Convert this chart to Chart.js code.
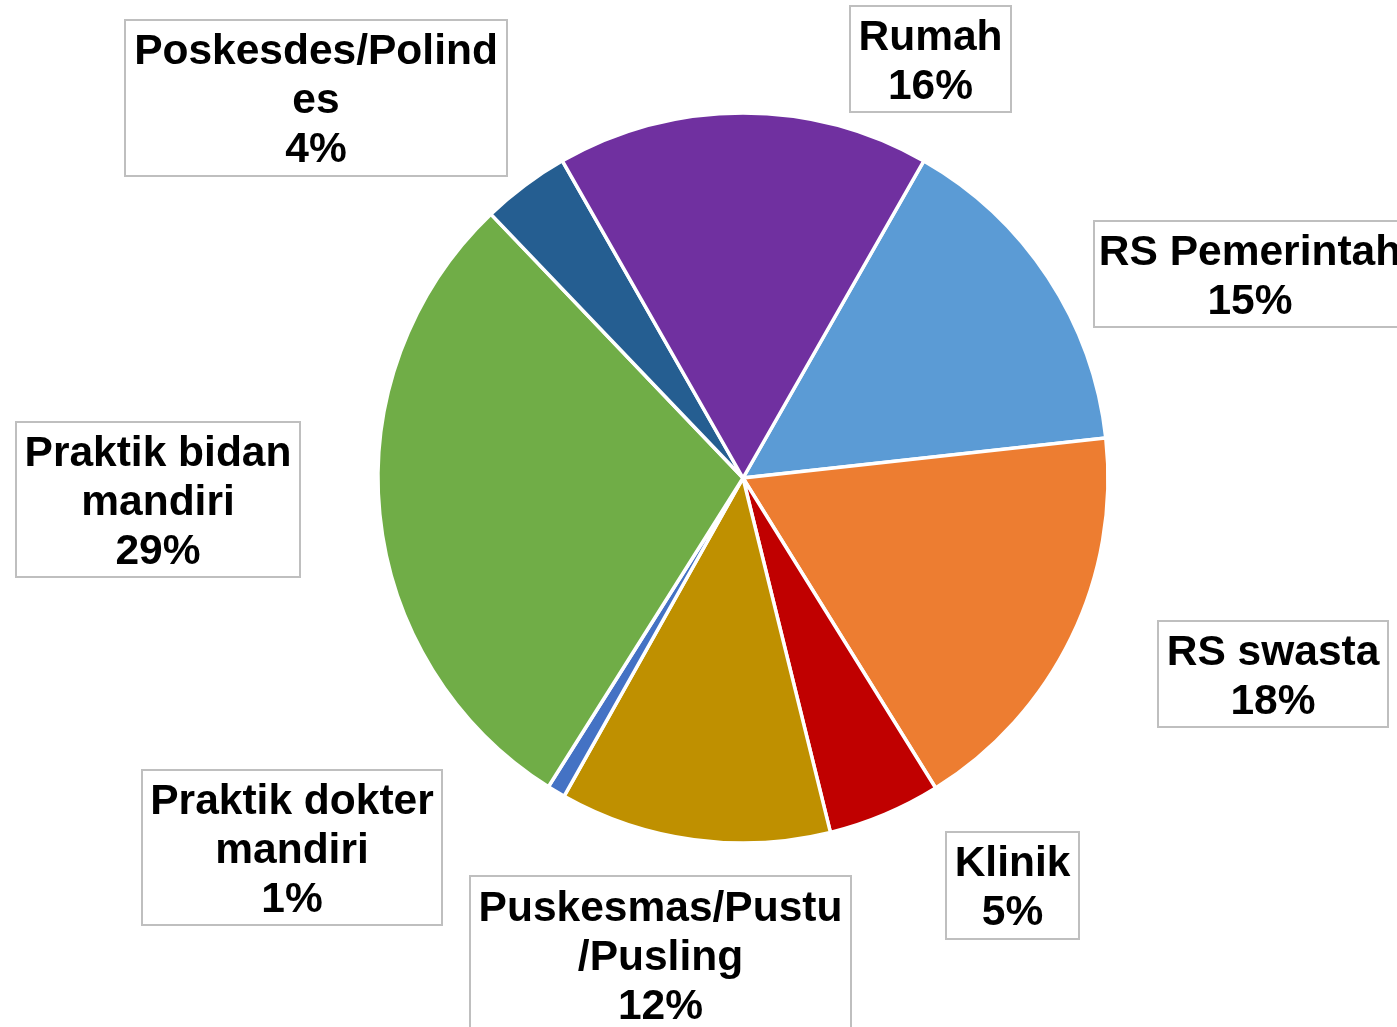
<!DOCTYPE html>
<html>
<head>
<meta charset="utf-8">
<script src="https://cdn.jsdelivr.net/npm/chart.js@4/dist/chart.umd.min.js"></script>
<style>
  html, body { margin: 0; padding: 0; background: #ffffff; }
  #wrap { width: 1397px; height: 1027px; position: relative; }
</style>
</head>
<body>
<div id="wrap"><canvas id="pieChart" width="1397" height="1027"></canvas></div>
<script>
// data (order as plotted, clockwise from the slice after Rumah)
const categories = [
  "RS Pemerintah", "RS swasta", "Klinik", "Puskesmas/Pustu/Pusling",
  "Praktik dokter mandiri", "Praktik bidan mandiri", "Poskesdes/Polindes", "Rumah"
];
const shares = [15.0, 17.9, 5.0, 12.0, 0.8, 28.91, 3.9, 16.49];
const sliceColors = [
  "#5B9BD5", "#ED7D31", "#C00000", "#BF9000",
  "#4472C4", "#70AD47", "#255E91", "#7030A0"
];

// how each category name is wrapped inside its label box
const labelLines = [
  ["RS Pemerintah"], ["RS swasta"], ["Klinik"], ["Puskesmas/Pustu", "/Pusling"],
  ["Praktik dokter", "mandiri"], ["Praktik bidan", "mandiri"], ["Poskesdes/Polind", "es"], ["Rumah"]
];
// label boxes [left, top, width, height] (moved by hand in the original)
const labelBoxes = [
  [1094, 221, 312, 106], [1158, 621, 230, 106], [946, 832, 133, 107], [470, 876, 381, 157],
  [142, 770, 300, 155], [16, 422, 284, 155], [125, 20, 382, 156], [850, 6, 161, 106]
];

const labelPlugin = {
  id: "boxLabels",
  afterDatasetsDraw(chart) {
    const c = chart.ctx;
    const vals = chart.data.datasets[0].data;
    const total = vals.reduce((a, b) => a + b, 0);
    c.save();
    c.font = "bold 42.5px 'Liberation Sans', Arial, sans-serif";
    c.textAlign = "center";
    c.textBaseline = "middle";
    vals.forEach((v, i) => {
      const [x, y, w, h] = labelBoxes[i];
      c.fillStyle = "#ffffff";
      c.fillRect(x, y, w, h);
      c.strokeStyle = "#BFBFBF";
      c.lineWidth = 2;
      c.strokeRect(x, y, w, h);
      const lines = labelLines[i].concat([Math.round(v / total * 100) + "%"]);
      const step = 49;
      const cx = x + w / 2;
      const startY = y + h / 2 - (lines.length - 1) * step / 2 + 3.5;
      c.fillStyle = "#000000";
      lines.forEach((t, k) => c.fillText(t, cx, startY + k * step));
    });
    c.restore();
  }
};

new Chart(document.getElementById("pieChart"), {
  type: "pie",
  data: {
    labels: categories,
    datasets: [{
      data: shares,
      backgroundColor: sliceColors,
      borderColor: "#ffffff",
      borderWidth: 3.5,
      borderJoinStyle: "miter"
    }]
  },
  options: {
    responsive: false,
    animation: false,
    rotation: 29.7,
    radius: 365,
    layout: { padding: { left: 89, right: 0, top: 0, bottom: 71 } },
    plugins: {
      legend: { display: false },
      tooltip: { enabled: false }
    }
  },
  plugins: [labelPlugin]
});
</script>
</body>
</html>
